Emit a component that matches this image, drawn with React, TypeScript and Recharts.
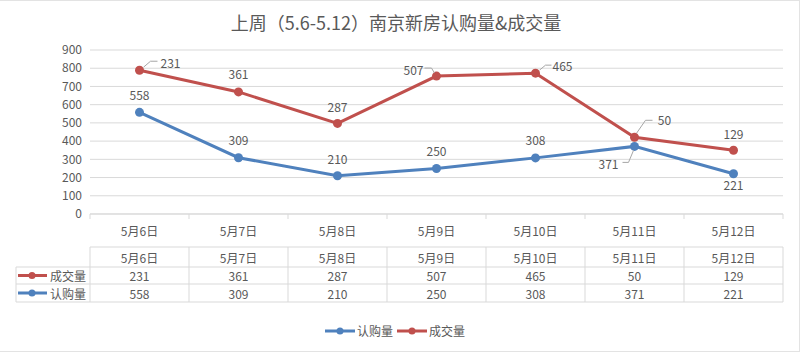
import React from "react";
import {
  ComposedChart,
  Area,
  XAxis,
  YAxis,
  CartesianGrid,
  LabelList,
} from "recharts";

// categories and series
const days = ["5月6日", "5月7日", "5月8日", "5月9日", "5月10日", "5月11日", "5月12日"];
const subscribed = [558, 309, 210, 250, 308, 371, 221]; // 认购量
const deals = [231, 361, 287, 507, 465, 50, 129]; // 成交量
const yTicks = [0, 100, 200, 300, 400, 500, 600, 700, 800, 900];

const data = days.map((day, i) => ({ day, 认购量: subscribed[i], 成交量: deals[i] }));

const BLUE = "#4F81BD";
const RED = "#C0504D";
const TEXT = "#595959";
const GRID = "#d9d9d9";
const FONT = '"Noto Sans CJK SC", "Microsoft YaHei", sans-serif';

const PLOT_LEFT = 90;
const PLOT_RIGHT = 783;
const PLOT_BOTTOM = 213;
const BAND = (PLOT_RIGHT - PLOT_LEFT) / days.length;

// table rows (y of borders)
const T_TOP = 246;
const T_R1 = 266;
const T_R2 = 283;
const T_BOT = 301;

// label placement per point: offset from the point, optional leader line (relative)
type Place = { dx: number; dy: number; leader?: number[][] };
const bluePlace: Place[] = [
  { dx: 0, dy: -18 },
  { dx: 0, dy: -18 },
  { dx: 0, dy: -17 },
  { dx: 0, dy: -18 },
  { dx: 0, dy: -18 },
  { dx: -26, dy: 17, leader: [[-1, 4], [-6, 16], [-12, 16]] },
  { dx: 0, dy: 11 },
];
const redPlace: Place[] = [
  { dx: 31, dy: -8, leader: [[4, -3], [11, -9], [18, -9]] },
  { dx: 0, dy: -18 },
  { dx: 0, dy: -17 },
  { dx: -23, dy: -7, leader: [[-2, -3], [-5, -8], [-12, -8]] },
  { dx: 27, dy: -8, leader: [[4, -3], [10, -8], [16, -8]] },
  { dx: 30, dy: -18, leader: [[2, -4], [11, -17], [18, -17]] },
  { dx: 0, dy: -17 },
];

const makeLabel = (values: number[], places: Place[]) => (props: any) => {
  const { x, y, index } = props;
  const p = places[index];
  return (
    <g>
      {p.leader && (
        <polyline
          points={p.leader.map(([a, b]) => `${x + a},${y + b}`).join(" ")}
          fill="none"
          stroke="#a6a6a6"
          strokeWidth={1}
        />
      )}
      <text
        x={x + p.dx}
        y={y + p.dy}
        textAnchor="middle"
        dominantBaseline="central"
        fill={TEXT}
        fontSize={12}
        fontFamily={FONT}
      >
        {values[index]}
      </text>
    </g>
  );
};

const makeDot = (color: string) => (props: any) => {
  const { cx, cy, index } = props;
  if (cx == null || cy == null) return <g key={index} />;
  return <circle key={index} cx={cx} cy={cy} r={4.5} fill={color} stroke="none" />;
};

function Cell({ x, y, children }: { x: number; y: number; children: React.ReactNode }) {
  return (
    <text x={x} y={y} textAnchor="middle" dominantBaseline="central" fill={TEXT} fontSize={12} fontFamily={FONT}>
      {children}
    </text>
  );
}

function KeyIcon({ color, y }: { color: string; y: number }) {
  return (
    <g>
      <line x1={18} x2={47} y1={y} y2={y} stroke={color} strokeWidth={3} />
      <circle cx={32} cy={y} r={3.5} fill={color} />
    </g>
  );
}

// x-axis tick that also draws its column of the data table
function TableTick(props: any) {
  const { x, index, payload } = props;
  const left = x - BAND / 2;
  const right = x + BAND / 2;
  const last = index === days.length - 1;
  return (
    <g>
      <line x1={left} x2={left} y1={PLOT_BOTTOM} y2={PLOT_BOTTOM + 5} stroke={GRID} />
      {last && <line x1={right} x2={right} y1={PLOT_BOTTOM} y2={PLOT_BOTTOM + 5} stroke={GRID} />}
      <Cell x={x} y={229}>{payload.value}</Cell>

      {[T_TOP, T_R1, T_R2, T_BOT].map((ty) => (
        <line key={ty} x1={left} x2={right} y1={ty} y2={ty} stroke={GRID} />
      ))}
      <line x1={left} x2={left} y1={T_TOP} y2={T_BOT} stroke={GRID} />
      {last && <line x1={right} x2={right} y1={T_TOP} y2={T_BOT} stroke={GRID} />}
      <Cell x={x} y={(T_TOP + T_R1) / 2}>{days[index]}</Cell>
      <Cell x={x} y={(T_R1 + T_R2) / 2}>{deals[index]}</Cell>
      <Cell x={x} y={(T_R2 + T_BOT) / 2}>{subscribed[index]}</Cell>

      {index === 0 && (
        <g>
          {[T_R1, T_R2, T_BOT].map((ty) => (
            <line key={ty} x1={16} x2={PLOT_LEFT} y1={ty} y2={ty} stroke={GRID} />
          ))}
          <line x1={16} x2={16} y1={T_R1} y2={T_BOT} stroke={GRID} />
          <KeyIcon color={RED} y={(T_R1 + T_R2) / 2} />
          <text x={50} y={(T_R1 + T_R2) / 2} dominantBaseline="central" fill={TEXT} fontSize={12} fontFamily={FONT}>
            成交量
          </text>
          <KeyIcon color={BLUE} y={(T_R2 + T_BOT) / 2} />
          <text x={50} y={(T_R2 + T_BOT) / 2} dominantBaseline="central" fill={TEXT} fontSize={12} fontFamily={FONT}>
            认购量
          </text>
        </g>
      )}
    </g>
  );
}

function LegendItem({ color, label }: { color: string; label: string }) {
  return (
    <span style={{ display: "inline-flex", alignItems: "center", marginRight: 4 }}>
      <svg width={30} height={10}>
        <line x1={0} x2={30} y1={5} y2={5} stroke={color} strokeWidth={3} />
        <circle cx={15} cy={5} r={3.5} fill={color} />
      </svg>
      <span style={{ marginLeft: 2 }}>{label}</span>
    </span>
  );
}

export default function App() {
  return (
    <div
      style={{
        position: "absolute",
        left: 0,
        top: 0,
        width: 800,
        height: 352,
        background: "#fff",
        fontFamily: FONT,
        boxSizing: "border-box",
        borderTop: "1px solid #e3e3e3",
        borderRight: "1px solid #e3e3e3",
        borderBottom: "1px solid #e3e3e3",
      }}
    >
      <div
        style={{
          position: "absolute",
          top: 8,
          left: 0,
          width: 792,
          textAlign: "center",
          fontSize: 18,
          color: TEXT,
          lineHeight: "26px",
        }}
      >
        上周（5.6-5.12）南京新房认购量&成交量
      </div>
      <ComposedChart
        width={799}
        height={350}
        data={data}
        margin={{ top: 49, right: 16, left: 0, bottom: 0 }}
        style={{ position: "absolute", top: 0, left: 0 }}
      >
        <CartesianGrid vertical={false} stroke={GRID} />
        <XAxis
          dataKey="day"
          scale="band"
          height={137}
          interval={0}
          axisLine={{ stroke: GRID }}
          tickLine={false}
          tick={<TableTick />}
        />
        <YAxis
          width={90}
          domain={[0, 900]}
          ticks={yTicks}
          interval={0}
          axisLine={false}
          tickLine={false}
          tick={{ fill: TEXT, fontSize: 12, fontFamily: FONT }}
        />
        <Area
          type="linear"
          dataKey="认购量"
          stackId="s"
          stroke={BLUE}
          strokeWidth={3}
          fill="none"
          dot={makeDot(BLUE)}
          activeDot={false}
          isAnimationActive={false}
        >
          <LabelList dataKey="认购量" content={makeLabel(subscribed, bluePlace)} />
        </Area>
        <Area
          type="linear"
          dataKey="成交量"
          stackId="s"
          stroke={RED}
          strokeWidth={3}
          fill="none"
          dot={makeDot(RED)}
          activeDot={false}
          isAnimationActive={false}
        >
          <LabelList dataKey="成交量" content={makeLabel(deals, redPlace)} />
        </Area>
      </ComposedChart>
      <div
        style={{
          position: "absolute",
          top: 321,
          left: 325,
          fontSize: 12,
          color: TEXT,
          display: "flex",
          alignItems: "center",
          lineHeight: "18px",
        }}
      >
        <LegendItem color={BLUE} label="认购量" />
        <LegendItem color={RED} label="成交量" />
      </div>
    </div>
  );
}
